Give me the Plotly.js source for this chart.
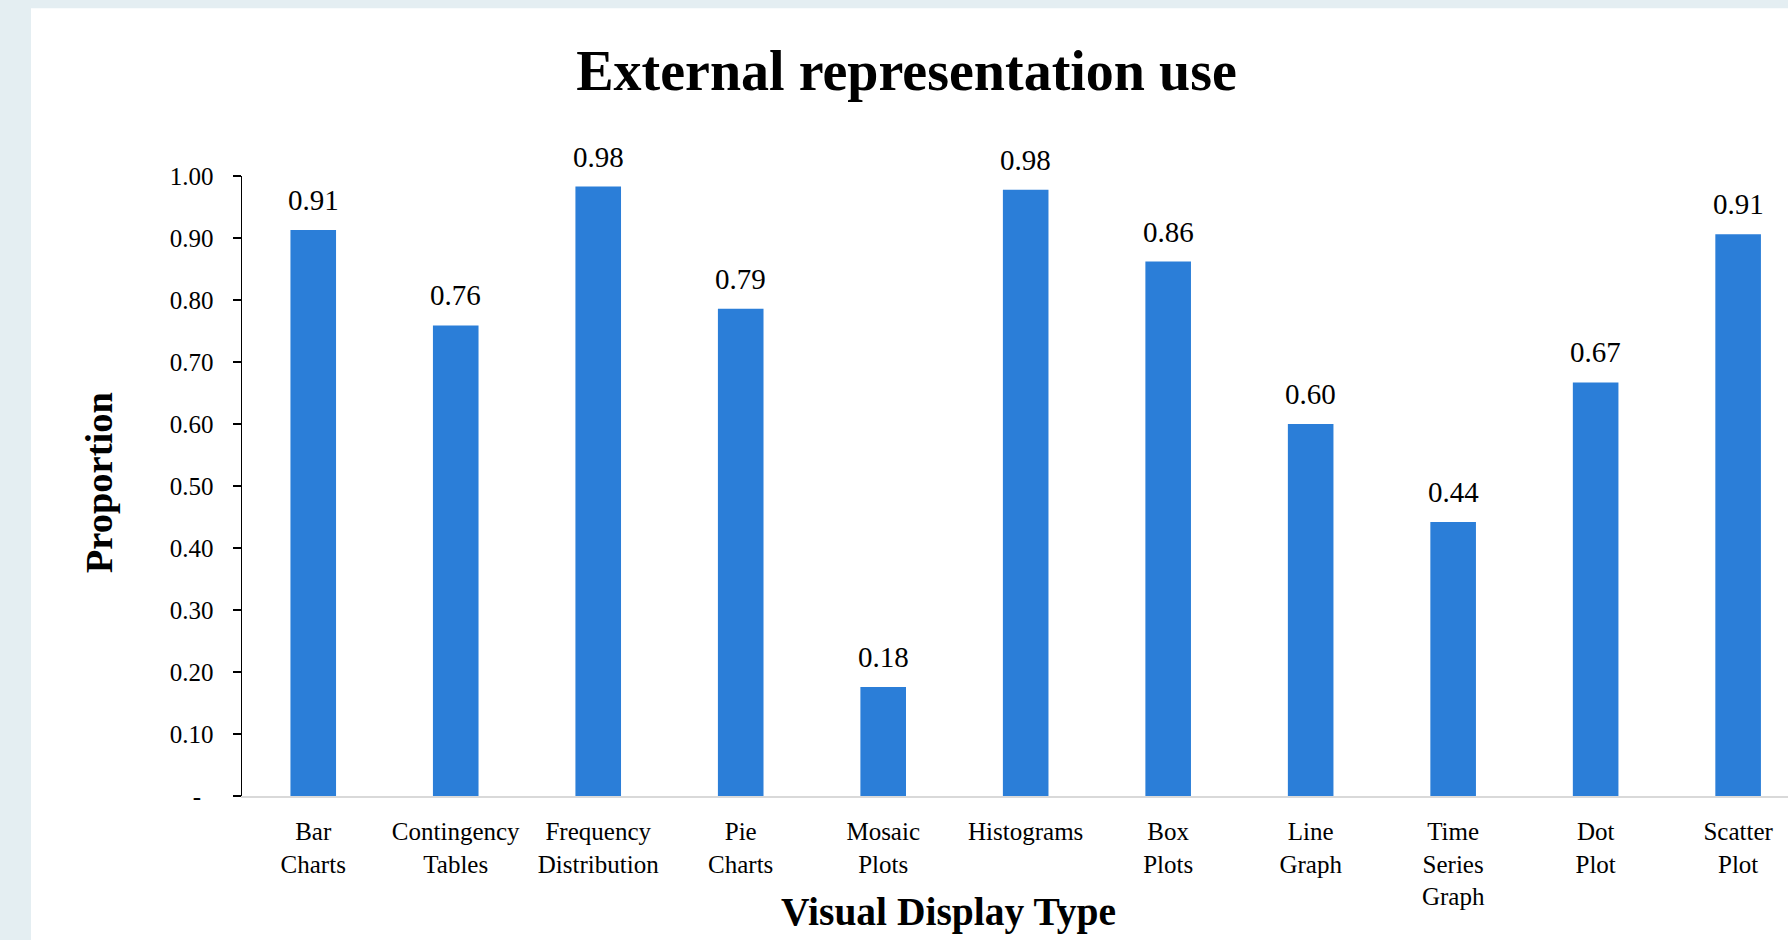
<!DOCTYPE html>
<html>
<head>
<meta charset="utf-8">
<script src="https://cdn.plot.ly/plotly-3.0.1.min.js"></script>
<style>
  html, body { margin: 0; padding: 0; background: #e4eef2; }
  #chart { width: 1788px; height: 940px; }
</style>
</head>
<body>
<div id="chart"></div>
<script>
// Share of respondents using each kind of visual display
const categories = [
  "Bar<br>Charts", "Contingency<br>Tables", "Frequency<br>Distribution",
  "Pie<br>Charts", "Mosaic<br>Plots", "Histograms", "Box<br>Plots",
  "Line<br>Graph", "Time<br>Series<br>Graph", "Dot<br>Plot", "Scatter<br>Plot"
];
const proportions = [0.913, 0.759, 0.983, 0.786, 0.176, 0.978, 0.862, 0.600, 0.442, 0.667, 0.906];

const yTickValues = [0, 0.1, 0.2, 0.3, 0.4, 0.5, 0.6, 0.7, 0.8, 0.9, 1.0];
const yTickLabels = ["-\u00a0\u00a0", "0.10", "0.20", "0.30", "0.40", "0.50", "0.60", "0.70", "0.80", "0.90", "1.00"];

const serif = "Liberation Serif, Times New Roman, serif";
const barColor = "#2b7ed8";

const positions = categories.map((_, i) => i);

const trace = {
  type: "bar",
  x: positions,
  y: proportions,
  marker: { color: barColor, line: { width: 0 } },
  hoverinfo: "x+y"
};

// value labels above each bar, formatted to two decimals
const valueLabels = proportions.map((v, i) => ({
  x: positions[i], y: v, xref: "x", yref: "y",
  text: v.toFixed(2), showarrow: false,
  yanchor: "middle", yshift: 30,
  font: { family: serif, size: 29, color: "#000" }
}));

const layout = {
  width: 1788, height: 940,
  margin: { l: 242, r: 0, t: 176, b: 144 },
  paper_bgcolor: "#e4eef2",
  plot_bgcolor: "#ffffff",
  showlegend: false,
  bargap: 0.68,
  title: {
    text: "<b>External representation use</b>",
    font: { family: serif, size: 56, color: "#000" },
    x: 0.507, xanchor: "center", xref: "container",
    y: 0.925, yanchor: "middle", yref: "container"
  },
  xaxis: {
    range: [-0.5, 10.35],
    tickvals: positions,
    ticktext: categories,
    showline: true, linecolor: "#d9d9d9", linewidth: 2,
    ticks: "", showgrid: false, zeroline: false,
    ticklabelstandoff: 12,
    tickfont: { family: serif, size: 25, color: "#000" },
    fixedrange: true
  },
  yaxis: {
    range: [0, 1.0],
    tickvals: yTickValues,
    ticktext: yTickLabels,
    showline: true, linecolor: "#000", linewidth: 1.5,
    ticks: "outside", ticklen: 8, tickwidth: 1.5, tickcolor: "#000",
    showgrid: false, zeroline: false,
    ticklabelstandoff: 14,
    tickfont: { family: serif, size: 25, color: "#000" },
    fixedrange: true
  },
  shapes: [{
    type: "rect", layer: "below",
    xref: "paper", yref: "paper",
    x0: -0.1365, x1: 1.01, y0: -0.24, y1: 1.2705,
    fillcolor: "#ffffff", line: { width: 0 }
  }],
  annotations: valueLabels.concat([
    {
      text: "<b>Visual Display Type</b>", showarrow: false,
      xref: "paper", yref: "paper", x: 0.4567, y: -0.187,
      xanchor: "center", yanchor: "middle",
      font: { family: serif, size: 39.5, color: "#000" }
    },
    {
      text: "<b>Proportion</b>", showarrow: false, textangle: -90,
      xref: "paper", yref: "paper", x: -0.0925, y: 0.506,
      xanchor: "center", yanchor: "middle",
      font: { family: serif, size: 38.5, color: "#000" }
    }
  ])
};

Plotly.newPlot("chart", [trace], layout, { displayModeBar: false, staticPlot: true });
</script>
</body>
</html>
